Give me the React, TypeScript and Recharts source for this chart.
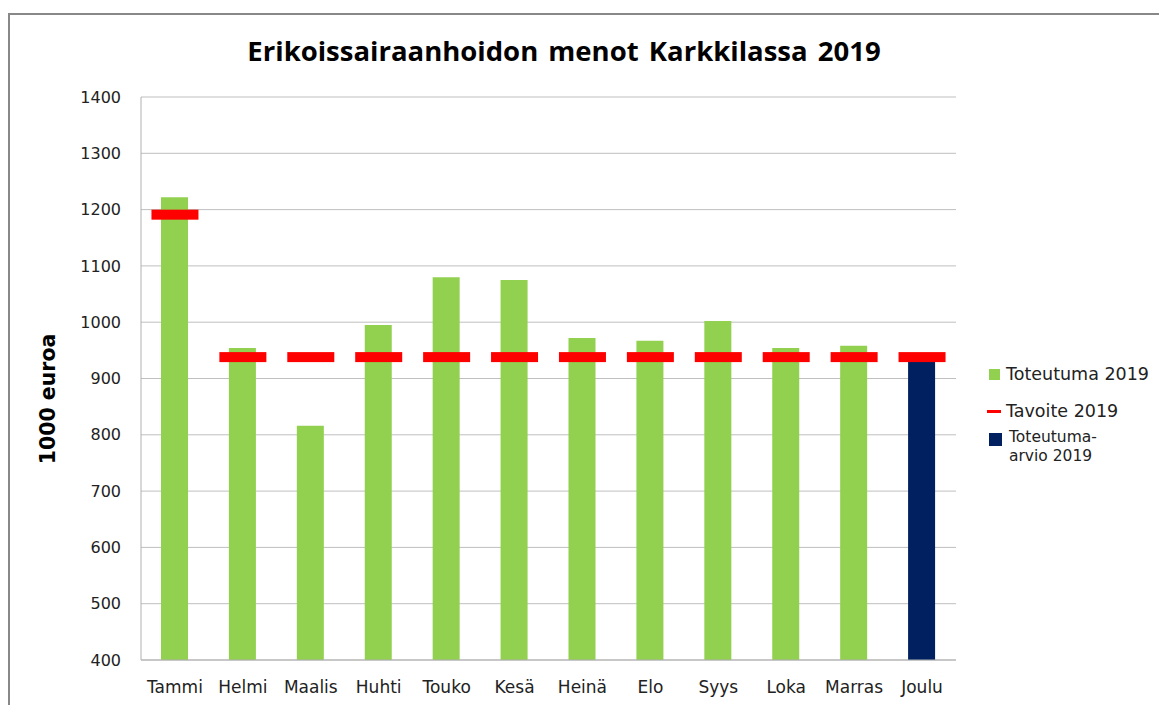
import { ComposedChart, Bar, Scatter, XAxis, YAxis, CartesianGrid } from "recharts"

const kuukaudet = ["Tammi", "Helmi", "Maalis", "Huhti", "Touko", "Kesä", "Heinä", "Elo", "Syys", "Loka", "Marras", "Joulu"]
const toteutuma = [1222, 954, 816, 995, 1080, 1075, 972, 967, 1002, 954, 958, null]
const arvio = [null, null, null, null, null, null, null, null, null, null, null, 935]
const tavoite = [1191, 938, 938, 938, 938, 938, 938, 938, 938, 938, 938, 938]
const yTicks = [400, 500, 600, 700, 800, 900, 1000, 1100, 1200, 1300, 1400]

const VIHREA = "#92d050"
const TUMMA = "#002060"
const PUNAINEN = "#ff0000"
const FONTTI = "'DejaVu Sans', Verdana, sans-serif"

// tavoiteviiva piirretään lyhyenä paksuna viivana kuukauden kohdalle
const TavoiteViiva = (props: any) => {
  const { cx, cy } = props
  if (cx == null || cy == null) return null
  return <rect x={cx - 23.5} y={cy - 5} width={47} height={10} fill={PUNAINEN} />
}

export default function App() {
  const datos = kuukaudet.map((kk, i) => ({
    kk,
    toteutuma: toteutuma[i],
    arvio: arvio[i],
    tavoite: tavoite[i],
  }))

  return (
    <div style={{ position: "absolute", left: 0, top: 0, width: 1159, height: 705, overflow: "hidden", background: "#fff" }}>
      <div
        style={{
          position: "absolute",
          left: 8,
          top: 13,
          width: 1170,
          height: 720,
          border: "2px solid #888",
          boxSizing: "border-box",
        }}
      />
      <div
        style={{
          position: "absolute",
          left: 0,
          top: 32,
          width: 1128,
          textAlign: "center",
          fontFamily: "'Open Sans', sans-serif",
          fontWeight: 700,
          fontSize: 27.5,
          color: "#000",
          wordSpacing: 3,
        }}
      >
        Erikoissairaanhoidon menot Karkkilassa 2019
      </div>

      <div style={{ position: "absolute", left: 0, top: 0 }}>
        <ComposedChart width={1159} height={705} data={datos} margin={{ top: 97, right: 203, left: 71, bottom: 15 }}>
          <CartesianGrid vertical={false} stroke="#bfbfbf" />
          <XAxis
            xAxisId="a"
            dataKey="kk"
            height={30}
            tickLine={false}
            tickMargin={15}
            axisLine={{ stroke: "#b0b0b0" }}
            tick={{ fill: "#222", fontSize: 17, fontFamily: FONTTI }}
            interval={0}
          />
          <XAxis xAxisId="b" dataKey="kk" hide />
          <YAxis
            width={70}
            domain={[400, 1400]}
            ticks={yTicks}
            interval={0}
            tickLine={false}
            tickMargin={14}
            axisLine={{ stroke: "#b0b0b0" }}
            tick={{ fill: "#222", fontSize: 16, fontFamily: FONTTI }}
          />
          <Bar xAxisId="a" dataKey="toteutuma" fill={VIHREA} barSize={27} isAnimationActive={false} />
          <Bar xAxisId="b" dataKey="arvio" fill={TUMMA} barSize={27} isAnimationActive={false} />
          <Scatter xAxisId="a" dataKey="tavoite" shape={TavoiteViiva} isAnimationActive={false} />
        </ComposedChart>
      </div>

      <div
        style={{
          position: "absolute",
          left: 48,
          top: 399,
          transform: "translate(-50%, -50%) rotate(-90deg)",
          fontFamily: FONTTI,
          fontWeight: 700,
          fontSize: 20.5,
          color: "#000",
          whiteSpace: "nowrap",
        }}
      >
        1000 euroa
      </div>

      {/* selite */}
      <div style={{ position: "absolute", left: 989, top: 369, width: 11, height: 11, background: VIHREA }} />
      <div style={{ position: "absolute", left: 1006, top: 363, fontFamily: FONTTI, fontSize: 17.5, color: "#222", lineHeight: "22px" }}>
        Toteutuma 2019
      </div>
      <div style={{ position: "absolute", left: 987, top: 410, width: 14, height: 3, background: PUNAINEN }} />
      <div style={{ position: "absolute", left: 1006, top: 400, fontFamily: FONTTI, fontSize: 17.5, color: "#222", lineHeight: "22px" }}>
        Tavoite 2019
      </div>
      <div style={{ position: "absolute", left: 989, top: 433, width: 13, height: 13, background: TUMMA }} />
      <div style={{ position: "absolute", left: 1009, top: 428, fontFamily: FONTTI, fontSize: 15.5, color: "#222", lineHeight: "19px" }}>
        Toteutuma-
        <br />
        arvio 2019
      </div>
    </div>
  )
}
